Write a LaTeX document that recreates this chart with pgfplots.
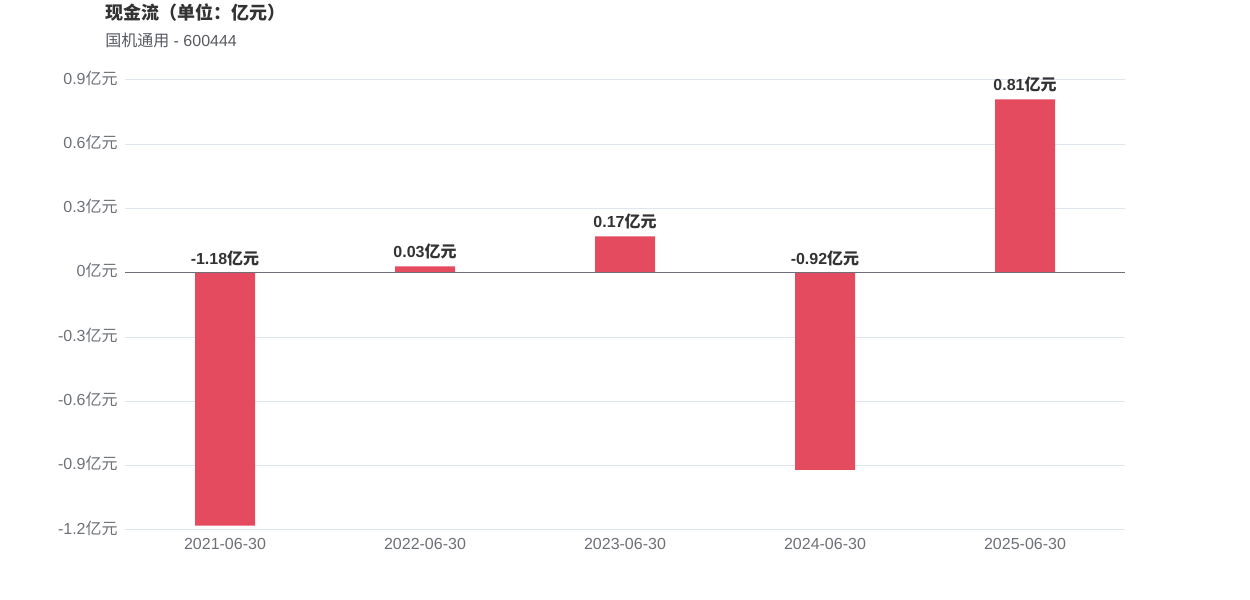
\documentclass[border=0pt]{standalone}
\usepackage{pgfplots}
\pgfplotsset{compat=1.18}
\usepackage{fontspec}
\setmainfont{Liberation Sans}
\newfontfamily\cjk{Noto Sans CJK SC}
\definecolor{barc}{RGB}{229,75,95}
\definecolor{gridc}{RGB}{224,230,241}
\definecolor{tickc}{RGB}{110,112,121}
\definecolor{labc}{RGB}{51,51,51}
\tikzset{vlab/.style={font=\bfseries\fontsize{12}{14}\selectfont, text=labc, anchor=south, inner sep=0pt, yshift=5pt}}
\begin{document}
\begin{tikzpicture}[x=1pt,y=1pt]
\path[use as bounding box] (0,0) rectangle (937.5,450);
\node[anchor=west, font=\bfseries\fontsize{13.5}{15}\selectfont, text=labc, inner sep=0pt] at (78.75,440.25) {{\cjk\bfseries 现金流（单位：亿元）}};
\node[anchor=west, font=\fontsize{12}{14}\selectfont, text=tickc!80!black, inner sep=0pt] at (78.75,420) {{\cjk 国机通用} - 600444};
\begin{axis}[
  at={(93.75pt,52.5pt)}, anchor=south west,
  scale only axis, width=750pt, height=337.5pt,
  xmin=-0.5, xmax=4.5, ymin=-1.2, ymax=0.9,
  axis line style={draw=none},
  ytick={-1.2,-0.9,-0.6,-0.3,0,0.3,0.6,0.9},
  yticklabels={{-1.2\cjk 亿元},{-0.9\cjk 亿元},{-0.6\cjk 亿元},{-0.3\cjk 亿元},{0\cjk 亿元},{0.3\cjk 亿元},{0.6\cjk 亿元},{0.9\cjk 亿元}},
  xtick={0,1,2,3,4},
  xticklabels={2021-06-30,2022-06-30,2023-06-30,2024-06-30,2025-06-30},
  major tick length=0pt,
  tick label style={font=\fontsize{12}{14}\selectfont, text=tickc},
  yticklabel style={xshift=-2pt, yshift=1.5pt},
  xticklabel style={yshift=-3pt},
  ymajorgrids, grid style={color=gridc, line width=0.75pt},
  ybar, bar width=45pt,
  clip=false,
]
\addplot[fill=barc, draw=none] coordinates {(0,-1.18) (1,0.03) (2,0.17) (3,-0.92) (4,0.81)};
\draw[tickc, line width=0.75pt] (axis cs:-0.5,0) -- (axis cs:4.5,0);
\node[vlab] at (axis cs:0,0) {-1.18{\cjk\bfseries 亿元}};
\node[vlab] at (axis cs:1,0.03) {0.03{\cjk\bfseries 亿元}};
\node[vlab] at (axis cs:2,0.17) {0.17{\cjk\bfseries 亿元}};
\node[vlab] at (axis cs:3,0) {-0.92{\cjk\bfseries 亿元}};
\node[vlab] at (axis cs:4,0.81) {0.81{\cjk\bfseries 亿元}};
\end{axis}
\end{tikzpicture}
\end{document}
